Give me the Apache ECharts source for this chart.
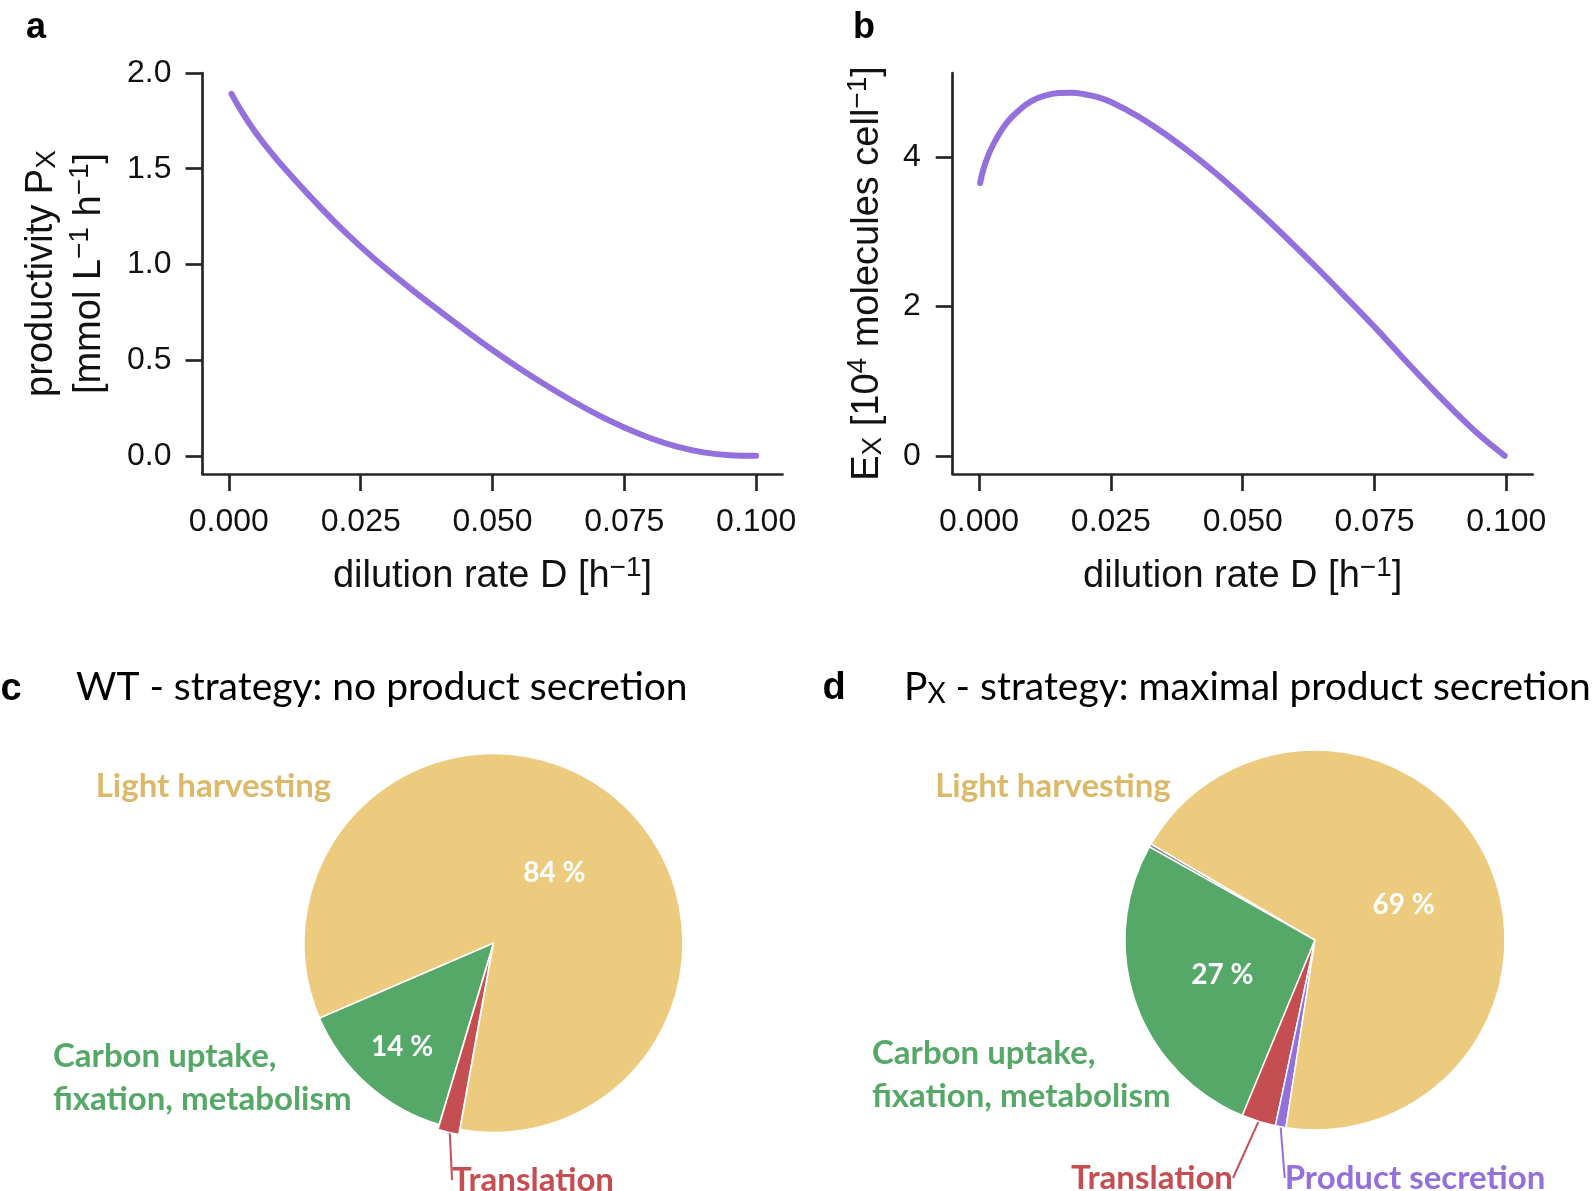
<!DOCTYPE html>
<html><head><meta charset="utf-8">
<script src="https://cdn.jsdelivr.net/npm/echarts@6/dist/echarts.min.js"></script>
<style>html,body{margin:0;padding:0;background:#fff}#c{width:1594px;height:1191px}</style>
</head><body><div id="c"></div>
<script>
// ---- data ----
const dilutionA = [0.0005, 0.0025, 0.005, 0.0075, 0.01, 0.015, 0.02, 0.025, 0.03, 0.035, 0.04, 0.045, 0.05, 0.055, 0.06, 0.065, 0.07, 0.075, 0.08, 0.085, 0.09, 0.095, 0.1];
const productivityA = [1.891, 1.796, 1.692, 1.602, 1.519, 1.367, 1.224, 1.093, 0.973, 0.862, 0.756, 0.653, 0.553, 0.459, 0.371, 0.289, 0.214, 0.148, 0.092, 0.048, 0.018, 0.003, 0.0];
const dilutionB = [0.0002, 0.001, 0.0025, 0.005, 0.0075, 0.01, 0.0125, 0.015, 0.0175, 0.02, 0.0225, 0.025, 0.03, 0.035, 0.04, 0.045, 0.05, 0.055, 0.06, 0.065, 0.07, 0.075, 0.08, 0.085, 0.09, 0.095, 0.0997];
const expressionB = [3.65, 3.875, 4.14, 4.435, 4.62, 4.75, 4.82, 4.855, 4.86, 4.84, 4.80, 4.735, 4.55, 4.32, 4.06, 3.775, 3.465, 3.14, 2.80, 2.45, 2.09, 1.725, 1.34, 0.965, 0.605, 0.27, 0.0];
const xTicks = [0, 0.025, 0.05, 0.075, 0.1];
const yTicksA = [0, 0.5, 1.0, 1.5, 2.0];
const yTicksB = [0, 2, 4];
const pieNamesC = ['Carbon uptake,\nfixation, metabolism', 'Translation', 'Light harvesting'];
const pieValuesC = [13.9, 1.8, 84.3];
const pieNamesD = ['Other', 'Carbon uptake,\nfixation, metabolism', 'Translation', 'Product secretion', 'Light harvesting'];
const pieValuesD = [0.3, 26.9, 2.9, 0.9, 69.0];

// ---- styles / layout ----
const LIB = '"Liberation Sans", Arial, sans-serif';
const AVN = 'Lato, "Noto Sans", sans-serif';
const AXC = '#262626';
const TXT = '#111111';
const LINEC = '#9370DB';
const CARB = 'Carbon uptake,\nfixation, metabolism';
const SLICE = {'Light harvesting':'#EDCB7E',[CARB]:'#55A868','Translation':'#C44E52','Product secretion':'#9370DB','Other':'#8C8C8C'};
const LABC = {'Light harvesting':'#DCB96A',[CARB]:'#55A868','Translation':'#C44E52','Product secretion':'#9370DB','Other':'#8C8C8C'};
const NAMEPOS_C = {'Light harvesting':{x:213.5,y:786,align:'center'},[CARB]:{x:53,y:1078,align:'left'},'Translation':{x:533,y:1180,align:'center'}};
const NAMEPOS_D = {'Light harvesting':{x:1053,y:786,align:'center'},[CARB]:{x:872,y:1075,align:'left'},'Translation':{x:1152,y:1178,align:'center'},'Product secretion':{x:1415,y:1178,align:'center'}};

const tStyle = {fontSize:38,fontFamily:LIB,color:TXT};
const supStyle = {fontSize:28,fontFamily:LIB,color:TXT,padding:[0,0,18,0]};
const subStyle = {fontSize:28,fontFamily:LIB,color:TXT,padding:[12,0,0,0]};

function xAxisOpt(gi){
  return {type:'value',gridIndex:gi,min:-0.005,max:0.105,
    axisLine:{show:true,onZero:false,lineStyle:{color:AXC,width:2.7}},
    axisTick:{show:true,inside:false,length:17,customValues:xTicks,lineStyle:{color:AXC,width:2.7}},
    axisLabel:{show:true,customValues:xTicks,formatter:v=>v.toFixed(3),margin:32,fontSize:32,fontFamily:LIB,color:TXT},
    splitLine:{show:false},
    name:'{t|dilution rate D [h}{sup|\u22121}{t|]}',nameLocation:'middle',nameGap:80,nameMoveOverlap:false,
    nameTextStyle:{rich:{t:tStyle,sup:supStyle}}};
}
function yAxisOpt(gi,min,max,ticks,fmt,margin,name,gap){
  const lh = 48;
  return {type:'value',gridIndex:gi,min:min,max:max,
    axisLine:{show:true,onZero:false,lineStyle:{color:AXC,width:2.7}},
    axisTick:{show:true,inside:false,length:17,customValues:ticks,lineStyle:{color:AXC,width:2.7}},
    axisLabel:{show:true,customValues:ticks,formatter:fmt,margin:margin,fontSize:32,fontFamily:LIB,color:TXT},
    splitLine:{show:false},
    name:name,nameLocation:'middle',nameRotate:90,nameGap:gap,nameMoveOverlap:false,
    nameTextStyle:{lineHeight:lh,rich:{t:Object.assign({lineHeight:lh},tStyle),sup:Object.assign({lineHeight:lh},supStyle),sub:Object.assign({lineHeight:lh},subStyle)}}};
}

function slicesSeries(names, values, center, r, start, selectedName){
  return {type:'pie',center:center,radius:[0,r],startAngle:start,clockwise:false,
    avoidLabelOverlap:false,selectedMode:'single',selectedOffset:5,
    itemStyle:{borderColor:'#ffffff',borderWidth:1.5},
    emphasis:{disabled:true},label:{show:false},labelLine:{show:false},
    data:names.map((n,i)=>({name:n,value:values[i],selected:n===selectedName,itemStyle:{color:SLICE[n]}}))};
}
function namesSeries(names, values, center, r, start, namePos){
  return {type:'pie',center:center,radius:[0,r],startAngle:start,clockwise:false,silent:true,
    avoidLabelOverlap:false,emphasis:{disabled:true},
    itemStyle:{color:'rgba(0,0,0,0)',borderWidth:0},
    label:{position:'outside',formatter:'{b}',fontFamily:AVN,fontWeight:'bold',fontSize:33,lineHeight:43,overflow:'none'},
    labelLine:{length:8,length2:0,smooth:false},
    labelLayout:function(p){const pos=namePos[names[p.dataIndex]]; if(!pos) return {}; return {x:pos.x,y:pos.y,align:pos.align,verticalAlign:'middle'};},
    data:names.map((n,i)=>({name:n,value:values[i],
      label:{show:!!namePos[n],color:LABC[n],align:namePos[n]?namePos[n].align:'center'},
      labelLine:{show:(n==='Translation'||n==='Product secretion'),lineStyle:{color:SLICE[n],width:2}}}))};
}
function pctSeries(names, values, center, r0, r, start, showNames, dy){
  return {type:'pie',center:center,radius:[r0,r],startAngle:start,clockwise:false,silent:true,
    avoidLabelOverlap:false,emphasis:{disabled:true},
    itemStyle:{color:'rgba(0,0,0,0)',borderWidth:0},labelLine:{show:false},
    label:{position:'inside',formatter:p=>Math.round(p.value)+' %',color:'#ffffff',fontFamily:AVN,fontWeight:'bold',fontSize:28},
    labelLayout:function(p){return {dy:dy[names[p.dataIndex]]||0};},
    data:names.map((n,i)=>({name:n,value:values[i],label:{show:showNames.indexOf(n)>=0}}))};
}

const CC = [493.5,943], RC = 189.5, SC = 203.3;
const CD = [1315,940], RD = 190, SD = 149.6;

const chart = echarts.init(document.getElementById('c'), null, {renderer:'canvas'});
chart.setOption({
  animation:false,
  backgroundColor:'#ffffff',
  textStyle:{fontFamily:LIB},
  grid:[
    {left:202.5,top:73,width:580,height:401,containLabel:false,outerBoundsMode:'none'},
    {left:952.7,top:73,width:580,height:401,containLabel:false,outerBoundsMode:'none'}
  ],
  xAxis:[xAxisOpt(0),xAxisOpt(1)],
  yAxis:[
    yAxisOpt(0,-0.095,2.0,yTicksA,v=>v.toFixed(1),31,'{t|productivity P}{sub|X}\n{t|[mmol L}{sup|\u22121}{t| h}{sup|\u22121}{t|]}',89),
    yAxisOpt(1,-0.244,5.124,yTicksB,v=>String(v),32,'{t|E}{sub|X}{t| [10}{sup|4}{t| molecules cell}{sup|\u22121}{t|]}',61)
  ],
  series:[
    {type:'line',xAxisIndex:0,yAxisIndex:0,data:dilutionA.map((x,i)=>[x,productivityA[i]]),showSymbol:false,smooth:0.4,
      lineStyle:{color:LINEC,width:6,cap:'round'},itemStyle:{color:LINEC}},
    {type:'line',xAxisIndex:1,yAxisIndex:1,data:dilutionB.map((x,i)=>[x,expressionB[i]]),showSymbol:false,smooth:0.4,
      lineStyle:{color:LINEC,width:6,cap:'round'},itemStyle:{color:LINEC}},
    slicesSeries(pieNamesC,pieValuesC,CC,RC,SC,'Translation'),
    namesSeries(pieNamesC,pieValuesC,CC,RC,SC,NAMEPOS_C),
    pctSeries(pieNamesC,pieValuesC,CC,0,RC,SC,['Light harvesting'],{'Light harvesting':7}),
    pctSeries(pieNamesC,pieValuesC,CC,79.6,RC,SC,[CARB],{[CARB]:1}),
    slicesSeries(pieNamesD,pieValuesD,CD,RD,SD,null),
    namesSeries(pieNamesD,pieValuesD,CD,RD,SD,NAMEPOS_D),
    pctSeries(pieNamesD,pieValuesD,CD,0,RD,SD,['Light harvesting',CARB],{'Light harvesting':7,[CARB]:3})
  ],
  graphic:[
    {type:'text',style:{text:'a',x:36,y:28,align:'center',verticalAlign:'middle',textAlign:'center',textVerticalAlign:'middle',fontSize:36,fontWeight:'bold',fontFamily:LIB,fill:'#000'}},
    {type:'text',style:{text:'b',x:864,y:28,align:'center',verticalAlign:'middle',textAlign:'center',textVerticalAlign:'middle',fontSize:36,fontWeight:'bold',fontFamily:LIB,fill:'#000'}},
    {type:'text',style:{text:'c',x:11,y:690,align:'center',verticalAlign:'middle',textAlign:'center',textVerticalAlign:'middle',fontSize:38,fontWeight:'bold',fontFamily:LIB,fill:'#000'}},
    {type:'text',style:{text:'d',x:834,y:689,align:'center',verticalAlign:'middle',textAlign:'center',textVerticalAlign:'middle',fontSize:38,fontWeight:'bold',fontFamily:LIB,fill:'#000'}},
    {type:'text',style:{text:'WT - strategy: no product secretion',x:76,y:687,align:'left',verticalAlign:'middle',textAlign:'left',textVerticalAlign:'middle',fontSize:39,fontFamily:AVN,fill:'#000'}},
    {type:'text',style:{text:'{t|P}{s|X}{t| - strategy: maximal product secretion}',x:904,y:687,align:'left',verticalAlign:'middle',textAlign:'left',textVerticalAlign:'middle',fontSize:39,fontFamily:AVN,fill:'#000',
      rich:{t:{fontSize:39,fontFamily:AVN,fill:'#000'},s:{fontSize:28,fontFamily:AVN,fill:'#000',padding:[14,0,0,0]}}}}
  ]
});
</script></body></html>
